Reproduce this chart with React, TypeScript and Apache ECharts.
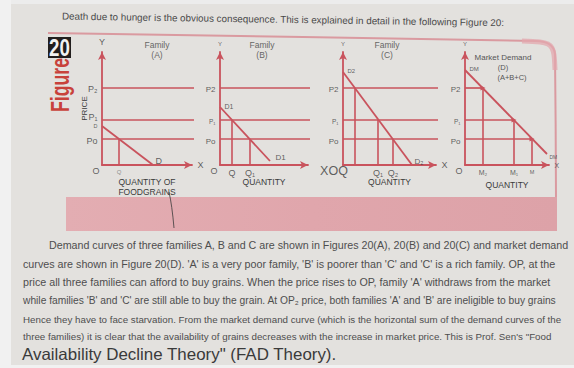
import React, { useEffect, useRef } from 'react';
import * as echarts from 'echarts';

// ---------- values (price / quantity units) ----------
const priceLevels = [26, 45, 77]; // P0, P1, P2
const priceMax = 113;
const quantityMax = [90, 88, 93, 84];

const demandA = [[0, 39], [51, 0]];
const demandB = [[0, 58], [50, 4]];
const demandC = [[0, 93], [69, 0]];
const demandMarket = [[0, 95], [82, 11]];

// quantity demanded at P0, P1, P2 (null = family out of the market)
const qtyA = [17, null, null];
const qtyB = [30, 12, null];
const qtyC = [50, 35, 12];
const qtyMarket = [67, 49, 18];

const priceLabelsA = ['Po', 'P₁', 'P₂'];
const priceLabelsB = ['Po', 'P₁', 'P2'];
const priceLabelsC = ['Po', 'P₁', 'P2'];
const priceLabelsM = ['Po', 'P₁', 'P2'];
const qtyLabelsA = ['Q', '', ''];
const qtyLabelsB = ['Q₁', 'Q', ''];
const qtyLabelsC = ['Q₂', 'Q₁', ''];
const qtyLabelsM = ['M', 'M₁', 'M₂'];
const curveStartLabels = ['D', 'D1', 'D2', 'DM'];
const curveEndLabels = ['D', 'D1', 'D₂', 'DM'];
const panelTitles = ['Family\n(A)', 'Family\n(B)', 'Family\n(C)'];
const marketTitle = ['Market Demand', '(D)', '(A+B+C)'];
const xAxisNames = ['QUANTITY OF\nFOODGRAINS', 'QUANTITY', 'QUANTITY', 'QUANTITY'];
const yAxisName = 'PRICE';

const introText =
  'Death due to hunger is the obvious consequence. This is explained in detail in the following Figure 20:';
const bodyLines = [
  'Demand curves of three families A, B and C are shown in Figures 20(A), 20(B) and 20(C) and market demand',
  "curves are shown in Figure 20(D). 'A' is a very poor family, 'B' is poorer than 'C' and 'C' is a rich family. OP, at the",
  "price all three families can afford to buy grains. When the price rises to OP, family 'A' withdraws from the market",
  "while families 'B' and 'C' are still able to buy the grain. At OP₂ price, both families 'A' and 'B' are ineligible to buy grains",
  'Hence they have to face starvation. From the market demand curve (which is the horizontal sum of the demand curves of the',
  'three families) it is clear that the availability of grains decreases with the increase in market price. This is Prof. Sen\'s "Food',
];
const closingLine = 'Availability Decline Theory" (FAD Theory).';

// ---------- styling / layout ----------
const RED = '#c9535d';
const TXT = '#3a3a3a';
const FONT = '"Liberation Sans", Arial, sans-serif';
const AXIS_TOP = 52;
const AXIS_BASE = 165;
const panelLeft = [102, 220, 343, 465];
const panelWidth = [90, 88, 93, 84];

const demands = [demandA, demandB, demandC, demandMarket];
const drops = [qtyA, qtyB, qtyC, qtyMarket];
const priceLabels = [priceLabelsA, priceLabelsB, priceLabelsC, priceLabelsM];
const qtyLabels = [qtyLabelsA, qtyLabelsB, qtyLabelsC, qtyLabelsM];

let measureCtx: CanvasRenderingContext2D | null = null;
function fitSize(text: string, target: number, weight = 'normal') {
  if (!measureCtx) measureCtx = document.createElement('canvas').getContext('2d');
  if (!measureCtx) return 9;
  measureCtx.font = `${weight} 20px ${FONT}`;
  const w = measureCtx.measureText(text).width;
  return (20 * target) / w;
}

const L = (value: number[], text: string, label: any) => ({
  value,
  label: { formatter: text, ...label },
});

function buildOption() {
  const grid: any[] = [];
  const xAxis: any[] = [];
  const yAxis: any[] = [];
  const series: any[] = [];
  const axisLine = {
    show: true,
    onZero: false,
    symbol: ['none', 'arrow'],
    symbolSize: [6, 8],
    lineStyle: { color: RED, width: 1.8 },
  };

  for (let i = 0; i < 4; i++) {
    grid.push({
      left: panelLeft[i],
      top: AXIS_TOP,
      width: panelWidth[i],
      height: AXIS_BASE - AXIS_TOP,
      containLabel: false,
      outerBoundsMode: 'none',
    });
    xAxis.push({
      type: 'value',
      gridIndex: i,
      min: 0,
      max: quantityMax[i],
      axisLine,
      axisTick: { show: false },
      axisLabel: { show: false },
      splitLine: { show: false },
      name: xAxisNames[i],
      nameLocation: 'middle',
      nameGap: i === 3 ? 15 : 12,
      nameTextStyle: {
        fontSize: 8.5,
        color: TXT,
        fontFamily: FONT,
        lineHeight: 10,
        verticalAlign: 'top',
      },
    });
    yAxis.push({
      type: 'value',
      gridIndex: i,
      min: 0,
      max: priceMax,
      axisLine,
      axisTick: { show: false },
      axisLabel: { show: false },
      splitLine: { show: false },
      name: i === 0 ? yAxisName : '',
      nameLocation: 'middle',
      nameRotate: 90,
      nameGap: 14,
      nameTextStyle: { fontSize: 8, color: TXT, fontFamily: FONT },
    });

    const common = { xAxisIndex: i, yAxisIndex: i, silent: true, clip: false, animation: false };
    // demand curve
    series.push({
      ...common,
      type: 'line',
      data: demands[i],
      symbol: 'none',
      lineStyle: { color: RED, width: 1.8 },
      z: 3,
    });
    // price lines
    priceLevels.forEach((P, j) => {
      if (i < 3) {
        const reach = ((panelLeft[i + 1] - panelLeft[i]) * quantityMax[i]) / panelWidth[i];
        series.push({
          ...common,
          type: 'line',
          data: [[0, P], [reach, P]],
          symbol: 'none',
          lineStyle: { color: RED, width: 1.7 },
          z: 2,
        });
      } else {
        series.push({
          ...common,
          type: 'line',
          data: [
            { value: [0, P], symbol: 'none' },
            { value: [drops[3][j], P], symbol: 'triangle', symbolRotate: -90, symbolSize: 5 },
          ],
          showSymbol: true,
          itemStyle: { color: RED },
          lineStyle: { color: RED, width: 1.7 },
          z: 2,
        });
      }
    });
    // drop lines
    drops[i].forEach((q, j) => {
      if (q == null) return;
      series.push({
        ...common,
        type: 'line',
        data: [[q, priceLevels[j]], [q, 0]],
        symbol: 'none',
        lineStyle: { color: RED, width: 1.6 },
        z: 2,
      });
    });

    // labels
    const items: any[] = [];
    items.push(L([0, priceMax], 'Y', { position: 'top', distance: 5, fontSize: i === 0 ? 9 : 6 }));
    priceLevels.forEach((P, j) => {
      const t = priceLabels[i][j];
      const small = t === 'P₁' && i > 0;
      items.push(
        L([0, P], t, {
          position: 'left',
          distance: 4,
          fontSize: small ? 6.5 : i === 0 ? 9 : 8,
          offset: j === 0 ? [0, 2] : j === 1 && i === 0 ? [0, -3] : [0, 1],
        })
      );
    });
    if (i !== 2) items.push(L([0, 0], 'O', { position: 'left', distance: 2, offset: [0, 6], fontSize: 9 }));
    else items.push(L([0, 0], 'XOQ', { position: 'inside', offset: [-9, 6], fontSize: 12.5 }));
    drops[i].forEach((q, j) => {
      const t = qtyLabels[i][j];
      if (q == null || !t) return;
      items.push(
        L([q, 0], t, {
          position: 'bottom',
          distance: 3,
          fontSize: i === 0 ? 6 : i === 3 ? (t === 'M' ? 5.5 : 7) : 9,
          color: i === 0 ? '#777' : TXT,
        })
      );
    });
    const d = demands[i];
    if (i === 0) {
      items.push(L(d[0], curveStartLabels[i], { position: 'left', distance: 4, fontSize: 5.5 }));
    } else {
      items.push(
        L(d[0], curveStartLabels[i], {
          position: 'right',
          distance: 4,
          offset: [0, -1],
          fontSize: i === 1 ? 7 : 6,
        })
      );
    }
    items.push(
      L(d[1], curveEndLabels[i], {
        position: 'right',
        distance: i === 1 ? 5 : 2,
        offset: i === 3 ? [0, 3] : [0, -4],
        fontSize: i === 3 ? 5 : i === 0 ? 9 : 8,
      })
    );
    if (i !== 1) {
      items.push(
        L([quantityMax[i], 0], 'X', { position: 'right', distance: 5, fontSize: i === 3 ? 7 : 9 })
      );
    }
    series.push({
      ...common,
      type: 'scatter',
      symbolSize: 1,
      itemStyle: { color: 'rgba(0,0,0,0)' },
      label: { show: true, color: TXT, fontFamily: FONT, fontSize: 8 },
      data: items,
      z: 6,
    });
  }

  // ---------- page decorations and text ----------
  const graphic: any[] = [];
  graphic.push({ type: 'rect', shape: { x: 0, y: 0, width: 11, height: 368 }, style: { fill: '#f1f1f1' } });
  graphic.push({ type: 'rect', shape: { x: 11, y: 0, width: 563, height: 4 }, style: { fill: '#ececec' } });
  graphic.push({ type: 'rect', shape: { x: 0, y: 365, width: 574, height: 3 }, style: { fill: '#f1f1f1' } });
  // box border with rounded top-right corner
  graphic.push({
    type: 'polyline',
    shape: {
      points: [[48, 33], [536, 41], [544, 42], [549, 44], [553, 48], [555, 54], [556, 198]],
      smooth: 0.2,
    },
    style: { stroke: '#da9aa0', lineWidth: 2, fill: null },
  });
  graphic.push({
    type: 'polyline',
    shape: { points: [[522, 41], [540, 42], [548, 44], [552, 48], [554, 55], [555, 70]], smooth: 0.3 },
    style: { stroke: '#e3a7ad', lineWidth: 5, fill: null, opacity: 0.75 },
  });
  // pink band
  graphic.push({
    type: 'rect',
    shape: { x: 66, y: 197, width: 491, height: 34 },
    style: {
      fill: new echarts.graphic.LinearGradient(0, 0, 1, 0, [
        { offset: 0, color: '#e3adb2' },
        { offset: 0.5, color: '#e0a6ac' },
        { offset: 1, color: '#dda2a8' },
      ]),
    },
  });
  graphic.push({
    type: 'bezierCurve',
    shape: { x1: 169, y1: 192, x2: 174, y2: 228, cpx1: 172, cpy1: 205 },
    style: { stroke: '#3a3a3a', lineWidth: 0.8, fill: null },
  });
  // "20" and "Figure"
  graphic.push({ type: 'rect', shape: { x: 48, y: 37, width: 23, height: 21 }, style: { fill: '#221e1e' } });
  graphic.push({
    type: 'text',
    x: 59.5,
    y: 48,
    scaleX: 0.78,
    style: {
      text: '20',
      fontSize: 24,
      fontWeight: 'bold',
      fontFamily: FONT,
      fill: '#f2f2f2',
      align: 'center',
      verticalAlign: 'middle',
    },
  });
  graphic.push({
    type: 'text',
    x: 60,
    y: 85,
    rotation: Math.PI / 2,
    scaleX: 0.68,
    style: {
      text: 'Figure',
      fontSize: 26,
      fontWeight: 'bold',
      fontFamily: FONT,
      fill: '#c8413b',
      align: 'center',
      verticalAlign: 'middle',
    },
  });
  // panel titles
  const titleX = [157, 262, 387];
  panelTitles.forEach((t, i) => {
    graphic.push({
      type: 'text',
      x: titleX[i],
      y: 40,
      style: {
        text: t,
        fontSize: 8.5,
        lineHeight: 10,
        fontFamily: FONT,
        fill: '#666',
        align: 'center',
        verticalAlign: 'top',
      },
    });
  });
  const mtPos = [
    [503, 57],
    [503, 67],
    [512, 77],
  ];
  marketTitle.forEach((t, k) => {
    graphic.push({
      type: 'text',
      x: mtPos[k][0],
      y: mtPos[k][1],
      style: {
        text: t,
        fontSize: k === 0 ? 8 : 7.5,
        fontFamily: FONT,
        fill: '#555',
        align: 'center',
        verticalAlign: 'middle',
      },
    });
  });
  // intro line (slightly tilted like the photo)
  graphic.push({
    type: 'text',
    x: 62,
    y: 16,
    rotation: -0.0155,
    style: {
      text: introText,
      fontSize: fitSize(introText, 443),
      fontFamily: FONT,
      fill: '#4a4a4a',
      verticalAlign: 'middle',
    },
  });
  // body lines
  const spans = [
    [49, 569, 245],
    [23, 556, 264],
    [23, 551, 282],
    [23, 557, 300],
    [23, 562, 319],
    [23, 552, 336],
  ];
  bodyLines.forEach((t, k) => {
    const [x0, x1, y] = spans[k];
    graphic.push({
      type: 'text',
      x: x0,
      y,
      style: {
        text: t,
        fontSize: fitSize(t, x1 - x0),
        fontFamily: FONT,
        fill: '#4e4e4e',
        verticalAlign: 'middle',
      },
    });
  });
  graphic.push({
    type: 'text',
    x: 22,
    y: 354,
    style: {
      text: closingLine,
      fontSize: fitSize(closingLine, 315),
      fontFamily: FONT,
      fill: '#3a3a3a',
      verticalAlign: 'middle',
    },
  });

  return {
    animation: false,
    backgroundColor: '#e3e1de',
    grid,
    xAxis,
    yAxis,
    series,
    graphic: { elements: graphic },
  };
}

export default function App() {
  const ref = useRef<HTMLDivElement>(null);
  useEffect(() => {
    if (!ref.current) return;
    const chart = echarts.init(ref.current, null, { renderer: 'svg' });
    chart.setOption(buildOption() as any);
    return () => chart.dispose();
  }, []);
  return (
    <div
      ref={ref}
      style={{ position: 'fixed', left: 0, top: 0, width: 574, height: 368, background: '#e3e1de' }}
    />
  );
}
